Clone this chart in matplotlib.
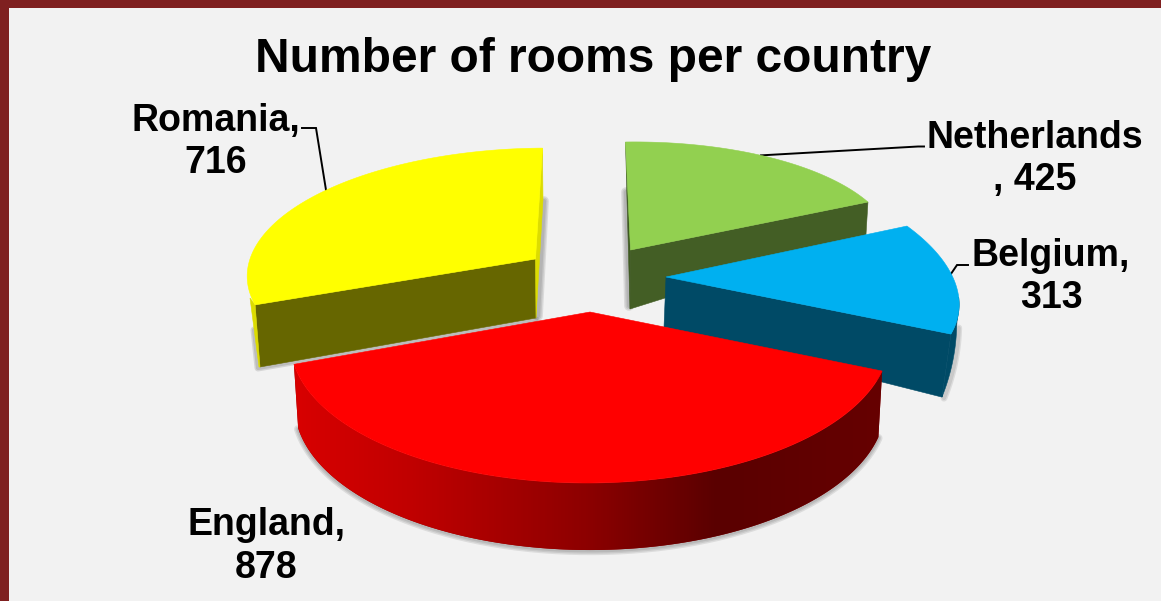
import numpy as np
import matplotlib
matplotlib.use("Agg")
import matplotlib.pyplot as plt
from matplotlib.patches import Polygon, Rectangle
from matplotlib.colors import LinearSegmentedColormap

# Data
countries = ["Netherlands", "Belgium", "England", "Romania"]
rooms = [425, 313, 878, 716]
label_lines = [("Netherlands", ", 425"), ("Belgium,", "313"), ("England,", "878"), ("Romania,", "716")]
title = "Number of rooms per country"

# Slice layout in pixel space: apex, horizontal and vertical axis vectors,
# perspective strength towards the viewer
layout = {
    "Netherlands": dict(apex=(630.5, 250), a=(263, -3.7), b=(-5, -108), d=0.0, top="#92d050", face="#435e25"),
    "Belgium": dict(apex=(666, 277), a=(288.4, 3.9), b=(-52.6, -132), d=0.0, top="#00b0f0", face="#004a66"),
    "England": dict(apex=(590, 312), a=(293, -1), b=(0.5, -135.6), d=0.207, top="#ff0000", face="#900000"),
    "Romania": dict(apex=(535.5, 259), a=(286, -1.6), b=(7.7, -122), d=0.1, top="#ffff00", face="#666600"),
}
bg = "#f2f2f2"
border = "#7f2020"

total = sum(rooms)
edges = np.cumsum([0] + rooms) / total * 2 * np.pi
spans = {c: (edges[i], edges[i + 1]) for i, c in enumerate(countries)}


def rim(name, theta, apex=None, a=None, b=None):
    s = layout[name]
    ap = np.array(s["apex"] if apex is None else apex, float)
    av = np.array(s["a"] if a is None else a, float)
    bv = np.array(s["b"] if b is None else b, float)
    theta = np.atleast_1d(theta)
    w = 1 + s["d"] * np.cos(theta)
    return ap + (np.outer(np.sin(theta), av) + np.outer(np.cos(theta), bv)) / w[:, None]


def top_polygon(name):
    t0, t1 = spans[name]
    pts = rim(name, np.linspace(t0, t1, 120))
    return np.vstack([layout[name]["apex"], pts])


def soft_line(ax, pts, z, widths=(7, 5, 3), alpha=0.13):
    pts = np.asarray(pts)
    for lw in widths:
        ax.plot(pts[:, 0], pts[:, 1], color="#404040", lw=lw, alpha=alpha, zorder=z,
                solid_capstyle="round")


def solid(points, color, z):
    return Polygon(points, facecolor=color, edgecolor=color, lw=0.4, zorder=z)


fig = plt.figure(figsize=(11.61, 6.01), dpi=100, facecolor=bg)
ax = fig.add_axes([0, 0, 1, 1])
ax.set_xlim(0, 1161)
ax.set_ylim(601, 0)
ax.axis("off")

ax.add_patch(Rectangle((0, 0), 1161, 8, color=border, lw=0, zorder=20))
ax.add_patch(Rectangle((0, 0), 9, 601, color=border, lw=0, zorder=20))

# Netherlands
name = "Netherlands"
s = layout[name]
corner = rim(name, spans[name][1])[0]
start = rim(name, spans[name][0])[0]
soft_line(ax, [(626, 192), (629, 306)], 1)
ax.add_patch(solid([s["apex"], corner, corner + (-2, 33), (630, 309)], s["face"], 2))
ax.add_patch(solid([start, (627, 200), (630, 309), s["apex"]], "#3f5a22", 2))
ax.add_patch(solid(top_polygon(name), s["top"], 3))

# Romania
name = "Romania"
s = layout[name]
corner = rim(name, spans[name][0])[0]
start = rim(name, spans[name][1])[0]
bot_apex = np.array((536, 318))
bot_corner = np.array((260, 367))
soft_line(ax, [(544, 201), (538, 316)], 1)
soft_line(ax, [(254, 330), (258, 368), (536, 320)], 1, widths=(5, 3), alpha=0.16)
ax.add_patch(solid([s["apex"], corner, bot_corner, bot_apex], s["face"], 2))
ax.add_patch(solid([start, (543, 200), bot_apex, s["apex"]], "#dcdc00", 2))
ax.add_patch(solid([corner, (250, 298), bot_corner + (-1, 0), bot_corner], "#dcdc00", 2))
ax.add_patch(solid(top_polygon(name), s["top"], 3))

# Belgium
name = "Belgium"
s = layout[name]
t0, t1 = spans[name]
corner = rim(name, t1)[0]
arc = rim(name, np.linspace(np.radians(97), t1, 40))
shift = np.column_stack([np.linspace(-2, -9, 40), np.linspace(30, 63, 40)])
lower = arc + shift
soft_line(ax, lower + (2, 1), 4, widths=(5, 3), alpha=0.12)
ax.add_patch(solid([s["apex"], corner, corner + shift[-1], (664, 327)], s["face"], 5))
ax.add_patch(solid(np.vstack([arc, lower[::-1]]), s["face"], 5))
ax.add_patch(solid(top_polygon(name), s["top"], 6))

# England: curved side with a horizontal shading ramp
name = "England"
s = layout[name]
t0, t1 = spans[name]
theta = np.linspace(t0, t1, 200)
upper_edge = rim(name, theta)
low_kw = dict(apex=(590, 376), a=(289, 0), b=(0, -138))
lower_edge = rim(name, theta, **low_kw)
side = Polygon(np.vstack([upper_edge, lower_edge[::-1]]), transform=ax.transData, lw=0, zorder=8)
soft_line(ax, lower_edge + (0, 1), 7, widths=(6, 4, 2), alpha=0.12)
ax.add_patch(Polygon(np.vstack([upper_edge, lower_edge[::-1]]), color=s["face"], lw=0, zorder=8))
ramp = LinearSegmentedColormap.from_list(
    "side", [(0.0, "#d80000"), (0.2, "#c00000"), (0.5, "#8c0000"), (0.72, "#5a0000"), (1.0, "#660000")])
img = ax.imshow(np.linspace(0, 1, 600)[None, :], cmap=ramp, aspect="auto",
                extent=(294, 882, 601, 300), zorder=8.5)
ax.add_patch(side)
side.set_visible(False)
img.set_clip_path(side)
ax.set_xlim(0, 1161)
ax.set_ylim(601, 0)
ax.add_patch(solid(top_polygon(name), s["top"], 9))

# Leader lines from the rim of each slice to its label
leaders = {
    "Netherlands": (0.47, [(918, 146.5), (924, 146.5)]),
    "Belgium": (0.44, [(957, 265), (968, 265)]),
    "Romania": (0.525, [(316, 128), (302, 128)]),
}
for key, (frac, tail) in leaders.items():
    t0, t1 = spans[key]
    p0 = rim(key, t0 + frac * (t1 - t0))[0]
    path = np.vstack([p0, tail])
    ax.plot(path[:, 0], path[:, 1], color="black", lw=1.4, zorder=2.5, solid_joinstyle="miter")

# Text
font = dict(family="Liberation Sans", weight="bold", color="black", ha="center", va="center", zorder=15)
ax.text(593, 60, title, fontsize=34.5, **font)
label_pos = {
    "Netherlands": (1034.5, 138, 180),
    "Belgium": (1051, 256, 298),
    "England": (266, 525, 568),
    "Romania": (215.5, 121, 163),
}
for c, lines in zip(countries, label_lines):
    x, y0, y1 = label_pos[c]
    ax.text(x, y0, lines[0], fontsize=27, **font)
    ax.text(x, y1, lines[1], fontsize=27, **font)

fig.savefig("out.png", dpi=100, facecolor=bg)
